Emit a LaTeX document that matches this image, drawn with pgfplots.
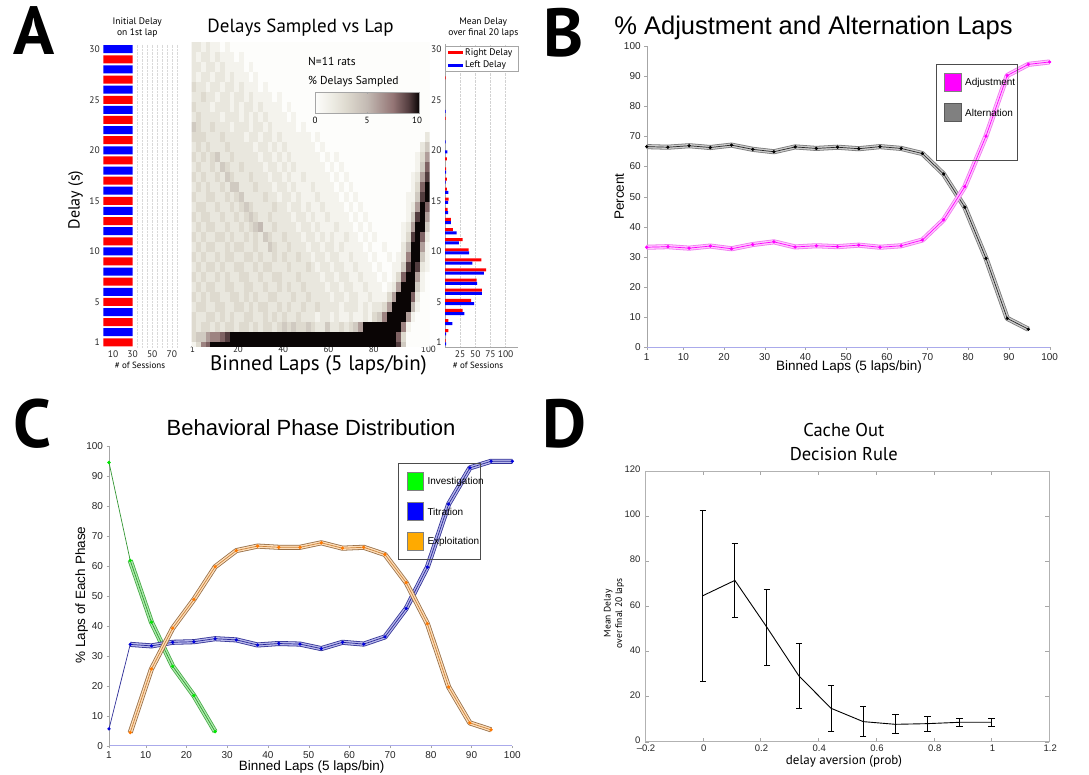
\documentclass[border=0pt]{standalone}
\usepackage{fontspec}
\setmainfont{Liberation Sans}
\newfontfamily\myr{PT Sans}
\usepackage{pgfplots}
\usepackage{pgfplotstable}
\pgfplotsset{compat=1.18}
\newcommand\fs[1]{\fontsize{#1}{#1}\selectfont}
\newcommand\fsb[2]{\fontsize{#1}{#2}\selectfont}
\pgfdeclareplotmark{cell}{\pgfpathrectangle{\pgfpoint{-2.45pt}{-5.1pt}}{\pgfpoint{4.9pt}{10.2pt}}\pgfusepathqfill}
\pgfdeclarehorizontalshading{cbar}{100bp}{rgb(0bp)=(0.992,0.992,0.984); rgb(25bp)=(0.992,0.992,0.984); rgb(32.5bp)=(0.937,0.933,0.902); rgb(40bp)=(0.871,0.855,0.812); rgb(50bp)=(0.765,0.729,0.702); rgb(62.5bp)=(0.58,0.459,0.459); rgb(70bp)=(0.322,0.235,0.243); rgb(75bp)=(0.04,0.02,0.02); rgb(100bp)=(0.04,0.02,0.02)}
\definecolor{xaxisblue}{RGB}{170,170,235}
\definecolor{altedge}{RGB}{120,120,120}
\definecolor{altfill}{RGB}{205,205,205}
\definecolor{adjedge}{RGB}{240,120,240}
\definecolor{adjfill}{RGB}{255,200,255}
\definecolor{mag}{RGB}{255,0,255}
\definecolor{invedge}{RGB}{70,170,70}
\definecolor{invfill}{RGB}{175,235,175}
\definecolor{invline}{RGB}{50,150,50}
\definecolor{invmark}{RGB}{0,230,0}
\definecolor{titedge}{RGB}{50,50,150}
\definecolor{titfill}{RGB}{185,185,235}
\definecolor{titline}{RGB}{40,40,150}
\definecolor{titmark}{RGB}{0,0,220}
\definecolor{expedge}{RGB}{150,110,70}
\definecolor{expfill}{RGB}{255,222,185}
\definecolor{expline}{RGB}{200,130,60}
\definecolor{expmark}{RGB}{255,120,0}
\definecolor{legorange}{RGB}{255,170,0}

\pgfplotstableread[header=false]{
2 2 1 2 1 1 0 1 0 0 0 0 0 0 0 0 0 0 0 0 0 0 0 0 0 0 0 0 0 0 0 0 0 0 0 0 0 0 0 0 0 0 0 0 0 0 0 0 0 0
2 1 2 2 1 2 1 1 1 0 1 0 0 0 0 0 0 0 0 0 0 0 0 0 0 0 0 0 0 0 0 0 0 0 0 0 0 0 0 0 0 0 0 0 0 0 0 0 0 0
2 2 1 2 2 1 2 1 1 1 1 0 1 0 0 0 0 0 0 0 0 0 0 0 0 0 0 0 0 0 0 0 0 0 0 0 0 0 0 0 0 0 0 0 0 0 0 0 0 0
2 1 2 2 1 2 2 1 2 1 1 1 0 1 0 0 0 0 0 0 0 0 0 0 0 0 0 0 0 0 0 0 0 0 0 0 0 0 0 0 0 0 0 0 0 0 0 0 0 0
3 2 2 1 2 2 1 2 2 1 2 1 1 1 0 1 0 0 0 0 0 0 0 0 0 0 0 0 0 0 0 0 0 0 0 0 0 0 0 0 0 0 0 0 0 0 0 0 0 0
2 2 3 2 2 1 2 2 1 2 2 1 2 1 1 1 1 0 1 0 0 0 0 0 0 0 0 0 0 0 0 0 0 0 0 0 0 0 0 0 0 0 0 0 0 0 0 0 0 0
3 2 2 2 1 2 2 2 1 2 1 2 2 1 2 1 1 1 1 0 1 0 0 0 0 0 0 0 0 0 0 0 0 0 0 0 0 0 0 0 0 0 0 0 0 0 0 0 0 0
2 3 2 2 2 2 1 2 2 2 1 2 1 2 1 2 1 1 1 1 0 1 0 0 0 0 0 0 0 0 0 0 0 0 0 0 0 0 0 0 0 0 0 0 0 0 0 0 0 0
4 3 2 2 3 2 2 2 1 2 2 2 1 2 2 1 2 1 1 1 1 1 0 1 0 0 0 0 0 0 0 0 0 0 0 0 0 0 0 0 0 0 0 0 0 0 0 0 0 0
3 3 3 2 2 2 3 2 2 2 2 1 2 2 1 2 2 1 2 1 1 1 1 1 1 0 1 0 0 0 0 0 0 0 0 0 0 0 0 0 0 0 0 0 0 0 0 0 0 2
2 3 2 3 2 2 2 3 2 2 2 2 2 1 2 2 1 2 1 2 1 1 1 1 1 1 0 1 0 0 0 0 0 0 0 0 0 0 0 0 0 0 0 0 0 0 0 0 2 4
3 2 3 2 3 4 2 2 3 2 2 2 2 2 1 2 2 1 2 1 2 1 1 1 1 1 1 0 1 0 1 0 0 0 0 0 0 0 0 0 0 0 0 0 0 0 0 1 3 6
2 3 2 2 3 2 4 3 2 2 3 2 2 2 2 1 2 2 1 2 1 2 1 1 1 1 1 1 0 1 0 1 0 0 0 0 0 0 0 0 0 0 0 0 0 0 0 1 4 8
3 2 3 2 2 3 2 4 3 2 2 2 3 2 2 2 1 2 2 1 2 1 1 2 1 1 1 1 1 0 1 0 1 0 0 0 0 0 0 0 0 0 0 0 0 0 1 2 6 9
2 3 2 3 2 2 3 2 4 4 2 2 2 3 2 2 2 1 2 2 1 2 1 1 1 2 1 1 1 1 0 1 0 1 0 0 0 0 0 0 0 0 0 0 0 0 1 3 8 10
3 2 2 3 3 2 2 3 2 3 4 2 2 2 2 3 2 2 1 2 2 1 2 1 1 1 2 1 1 1 1 0 1 0 1 0 0 0 0 0 0 0 0 0 0 1 1 4 9 10
2 3 3 2 2 3 2 2 3 2 3 4 3 2 2 2 2 3 2 2 1 2 2 1 2 1 1 2 1 1 1 1 0 1 0 1 0 0 0 0 0 0 0 0 0 1 2 6 10 8
3 2 3 3 2 2 3 2 2 3 2 3 4 3 2 2 3 2 2 2 2 1 2 2 1 2 1 1 2 1 1 1 1 0 1 0 1 0 0 0 0 0 0 0 0 1 4 9 10 6
2 3 2 3 3 2 2 3 2 2 3 2 3 4 5 2 2 3 2 2 2 2 1 2 2 1 2 1 1 1 2 1 1 1 0 1 0 1 0 0 0 0 0 0 1 2 6 10 10 4
3 2 3 2 2 3 3 2 3 2 2 3 2 3 2 4 3 2 2 3 2 2 2 1 2 2 1 2 1 2 1 1 2 1 1 0 1 0 1 0 0 0 0 0 1 3 9 10 8 2
2 3 2 3 3 2 2 3 2 3 3 2 2 3 2 2 4 3 2 2 3 2 2 2 1 2 2 1 2 2 1 2 1 1 1 1 0 1 0 0 1 0 0 0 2 5 10 10 6 1
3 2 3 2 2 3 2 3 3 2 2 3 3 2 3 2 2 3 2 3 2 2 3 2 2 1 2 2 1 2 2 1 1 2 1 1 1 0 1 0 0 1 0 1 2 7 10 10 4 1
2 3 2 3 3 2 3 2 2 3 3 2 2 3 2 3 3 2 2 2 3 2 2 2 3 2 1 2 2 1 2 2 1 1 2 1 1 1 0 1 0 0 1 1 4 9 10 9 2 1
3 2 3 2 2 3 2 3 2 2 3 3 2 2 3 2 2 3 3 2 2 2 3 2 2 2 2 1 2 2 1 2 2 1 1 2 1 1 1 0 1 0 1 3 8 10 10 6 1 0
2 3 2 3 3 2 2 3 3 2 2 3 3 2 2 3 2 2 3 2 3 2 2 3 2 2 2 2 1 2 2 1 2 2 1 1 2 1 1 1 0 1 2 6 10 10 10 4 1 0
3 2 3 2 3 3 2 2 3 3 2 3 2 3 2 2 3 3 2 2 2 3 2 2 3 2 2 2 2 1 2 2 1 2 2 1 1 2 1 1 1 3 6 10 10 10 8 2 0 0
2 3 3 2 2 3 3 2 2 3 3 2 3 2 3 3 2 2 3 2 3 2 2 3 2 2 3 2 2 2 2 1 2 2 2 1 2 1 2 2 3 6 10 10 10 10 5 1 0 0
3 2 2 3 3 2 3 2 3 2 2 3 3 2 2 3 2 3 2 3 2 2 3 2 2 2 1 2 2 1 2 1 1 2 1 1 2 1 3 4 7 10 10 10 10 6 1 0 0 0
3 2 3 3 2 3 2 3 3 2 3 3 2 3 2 3 3 2 3 4 3 4 3 3 4 3 2 2 4 2 2 3 2 3 4 6 10 10 10 10 10 10 10 10 7 1 0 0 0 0
3 4 4 6 7 7 8 9 10 10 10 10 10 10 10 10 10 10 10 10 10 10 10 10 10 10 10 10 10 10 10 10 10 10 10 10 10 10 10 10 10 10 10 8 3 0 0 0 0 0
1 3 7 8 10 10 10 10 10 10 10 10 10 10 10 10 10 10 10 10 10 10 10 10 10 10 10 10 10 10 10 10 10 10 10 10 10 10 10 10 10 10 10 9 4 0 0 0 0 0
}\heat

\pgfplotstableread{
x y
1 66.6
6.21 66.4
11.42 66.9
16.63 66.3
21.84 67.1
27.05 65.7
32.26 64.9
37.47 66.5
42.68 66.0
47.89 66.4
53.11 65.9
58.32 66.6
63.53 66.0
68.74 64.3
73.95 57.5
79.16 46.5
84.37 29.5
89.58 9.6
94.79 6.0
}\alt

\pgfplotstableread{
x y
1 33.2
6.21 33.4
11.42 32.9
16.63 33.6
21.84 32.7
27.05 34.1
32.26 35.0
37.47 33.3
42.68 33.7
47.89 33.4
53.11 33.9
58.32 33.2
63.53 33.7
68.74 35.6
73.95 42.3
79.16 53.3
84.37 70.1
89.58 90.2
94.79 93.9
100 94.7
}\adj

\pgfplotstableread{
x y
1 94.5
6.21 61.8
11.42 41.2
16.63 26.5
21.84 16.7
27.05 4.7
}\inv

\pgfplotstableread{
x y
1 5.6
6.21 33.8
11.42 33.3
16.63 34.5
21.84 34.7
27.05 35.7
32.26 35.3
37.47 33.6
42.68 34.1
47.89 33.9
53.11 32.4
58.32 34.5
63.53 33.9
68.74 36.3
73.95 45.8
79.16 59.6
84.37 80.6
89.58 92.7
94.79 94.9
100 94.9
}\tit

\pgfplotstableread{
x y
6.21 4.4
11.42 25.6
16.63 39.2
21.84 48.8
27.05 59.7
32.26 65.1
37.47 66.6
42.68 66.2
47.89 66.2
53.11 67.7
58.32 65.9
63.53 66.2
68.74 63.8
73.95 54.4
79.16 40.7
84.37 19.6
89.58 7.6
94.79 5.3
}\expl

\pgfplotsset{every axis/.append style={scale only axis, anchor=south west, /pgf/number format/assume math mode=true}}

\begin{document}
\begin{tikzpicture}
\path[use as bounding box] (0,0) rectangle (1089pt,775pt);
\fill[white] (0,0) rectangle (1089pt,775pt);

% ---------- A1: initial delay strip ----------
\begin{axis}[at={(103.3pt,427.6pt)}, width=73.4pt, height=303.2pt,
  xmin=0, xmax=75, ymin=0.5, ymax=30.5,
  xbar, bar width=8pt,
  axis line style={draw=none},
  xtick={10,30,50,70}, ytick={1,5,10,15,20,25,30},
  minor xtick={35,40,...,75},
  xminorgrids, minor grid style={densely dotted, gray!30, line width=0.4pt},
  major tick length=0pt, minor tick length=0pt,
  tick label style={font=\myr\fs{9.5}, text=black!85},
]
\addplot[fill=red, draw=none, bar shift=0pt] coordinates {(30,1)(30,3)(30,5)(30,7)(30,9)(30,11)(30,13)(30,15)(30,17)(30,19)(30,21)(30,23)(30,25)(30,27)(30,29)};
\addplot[fill=blue, draw=none, bar shift=0pt] coordinates {(30,2)(30,4)(30,6)(30,8)(30,10)(30,12)(30,14)(30,16)(30,18)(30,20)(30,22)(30,24)(30,26)(30,28)(30,30)};
\end{axis}

% ---------- A2: heatmap ----------
\begin{axis}[at={(191.5pt,428.3pt)}, width=238.2pt, height=305pt,
  xmin=0.5, xmax=100.5, ymin=0, ymax=30.5,
  axis line style={draw=none},
  xtick={1,20,39,58,77,100}, xticklabels={1,20,40,60,80,100},
  ytick=\empty, major tick length=0pt,
  tick label style={font=\myr\fs{9}, text=black!85},
  xticklabel style={yshift=4.5pt},
  colormap={heat}{rgb255(0pt)=(253,253,251) rgb255(15pt)=(239,238,230) rgb255(30pt)=(222,218,207) rgb255(50pt)=(195,186,179) rgb255(75pt)=(148,117,117) rgb255(90pt)=(82,60,62) rgb255(100pt)=(10,5,5)},
  point meta min=0, point meta max=10,
  clip marker paths=true,
]
\pgfplotsinvokeforeach{0,...,49}{
  \addplot[scatter, only marks, mark=cell, scatter/use mapped color={draw=mapped color, fill=mapped color}, point meta=explicit] table[x expr={2*#1+1.5}, y expr={30-\coordindex}, meta index=#1] {\heat};
}
\end{axis}

% ---------- A3: histogram ----------
\begin{axis}[at={(445pt,427.6pt)}, width=72.7pt, height=303.2pt,
  xmin=0, xmax=120, ymin=0.5, ymax=30.5,
  xbar, bar width=3pt,
  axis x line*=bottom, axis y line*=left, axis line style={gray!70, -},
  xtick={25,50,75,100}, ytick={1,5,10,15,20,25,30},
  xmajorgrids, major grid style={densely dotted, gray!35, line width=0.4pt},
  major tick length=0pt,
  tick label style={font=\myr\fs{9.5}, text=black!85},
]
\addplot[fill=red, draw=none, bar shift=1.6pt] coordinates {(1,1)(5.5,2)(5.5,3)(29,4)(43,5)(61,6)(52,7)(68,8)(60,9)(39,10)(29,11)(13,12)(9.5,13)(4.5,14)(6,15)(3,16)(3,17)(2,18)(3,19)(1,23)(1,27)};
\addplot[fill=blue, draw=none, bar shift=-1.6pt] coordinates {(2,1)(2,2)(12,3)(32,4)(48,5)(61,6)(53,7)(64,8)(45,9)(40,10)(23,11)(19,12)(9.5,13)(5,14)(5,15)(5.5,16)(1,17)(2,18)(4,20)(1,21)(1,24)};
\end{axis}

% ---------- B ----------
\begin{axis}[at={(646.7pt,427.7pt)}, width=402.9pt, height=301.3pt,
  xmin=1, xmax=100, ymin=0, ymax=100,
  axis x line*=bottom, axis y line*=left,
  x axis line style={draw=xaxisblue, -},
  y axis line style={draw=gray!70, -},
  xtick={1,10,20,30,40,50,60,70,80,90,100}, ytick={0,10,...,100},
  tick align=outside, major tick length=2.5pt, tick style={gray!70},
  tick label style={font=\fs{10}, text=black!85},
]
\addplot[altedge, line width=5pt, line join=round] table {\alt};
\addplot[altfill, line width=3.4pt, line join=round] table {\alt};
\addplot[black!85, line width=0.7pt, mark=*, mark size=1.3pt, mark options={fill=black, draw=black}] table {\alt};
\addplot[adjedge, line width=5pt, line join=round] table {\adj};
\addplot[adjfill, line width=3.4pt, line join=round] table {\adj};
\addplot[mag, line width=0.7pt, mark=*, mark size=1.3pt, mark options={fill=mag, draw=mag}] table {\adj};
\end{axis}

% ---------- C ----------
\begin{axis}[at={(109pt,29.3pt)}, width=403.3pt, height=299.7pt,
  xmin=1, xmax=100, ymin=0, ymax=100,
  axis x line*=bottom, axis y line*=left,
  x axis line style={draw=xaxisblue, -},
  y axis line style={draw=gray!70, -},
  xtick={1,10,20,30,40,50,60,70,80,90,100}, ytick={0,10,...,100},
  tick align=outside, major tick length=2.5pt, tick style={gray!70},
  tick label style={font=\fs{10}, text=black!85},
]
\addplot[invedge, line width=5pt, line join=round, restrict x to domain=5:101] table {\inv};
\addplot[invfill, line width=3.4pt, line join=round, restrict x to domain=5:101] table {\inv};
\addplot[invline, line width=0.7pt, mark=*, mark size=1.3pt, mark options={fill=invmark, draw=invmark}] table {\inv};
\addplot[titedge, line width=5pt, line join=round, restrict x to domain=5:101] table {\tit};
\addplot[titfill, line width=3.4pt, line join=round, restrict x to domain=5:101] table {\tit};
\addplot[titline, line width=0.7pt, mark=*, mark size=1.3pt, mark options={fill=titmark, draw=titmark}] table {\tit};
\addplot[expedge, line width=5pt, line join=round] table {\expl};
\addplot[expfill, line width=3.4pt, line join=round] table {\expl};
\addplot[expline, line width=0.7pt, mark=*, mark size=1.3pt, mark options={fill=expmark, draw=expmark}] table {\expl};
\end{axis}

% ---------- D ----------
\begin{axis}[at={(645pt,33.3pt)}, width=404.3pt, height=270.7pt,
  xmin=-0.2, xmax=1.2, ymin=0, ymax=120,
  xtick={-0.2,0,0.2,0.4,0.6,0.8,1,1.2}, xticklabels={\textendash0.2,0,0.2,0.4,0.6,0.8,1,1.2},
  ytick={0,20,40,60,80,100,120},
  tick align=inside, major tick length=4pt, tick style={gray!70},
  axis line style={gray!60},
  tick label style={font=\fs{9.5}, text=black!85},
  yticklabel style={xshift=-1pt, yshift=1.5pt},
  xticklabel style={xshift=1pt},
]
\addplot[black, line width=0.9pt,
  error bars/.cd, y dir=both, y explicit,
  error bar style={line width=0.9pt, black},
  error mark options={rotate=90, line width=0.9pt, mark size=3.2pt, black}]
  coordinates {
  (0,64.7) +- (0,38.0)
  (0.1111,71.5) +- (0,16.6)
  (0.2222,50.7) +- (0,17.0)
  (0.3333,29.1) +- (0,14.3)
  (0.4444,14.8) +- (0,10.1)
  (0.5556,8.9) +- (0,6.7)
  (0.6667,7.7) +- (0,4.2)
  (0.7778,8.0) +- (0,3.4)
  (0.8889,8.6) +- (0,1.8)
  (1,8.6) +- (0,1.8)
  };
\end{axis}

% ---------- Panel A texts ----------
\node[align=center, font=\myr\fsb{9.5}{11.6}] at (137.3pt,747.5pt) {Initial Delay\\on 1st lap};
\node[rotate=90, font=\myr\fs{16}] at (75.7pt,575pt) {Delay (s)};
\node[font=\myr\fs{9}] at (140pt,410pt) {\# of Sessions};
\node[font=\myr\fs{19}] at (300.5pt,747pt) {Delays Sampled vs Lap};
\node[inner sep=0pt, font=\myr\fs{21}] at (318.5pt,410pt) {Binned Laps (5 laps/bin)};
\node[anchor=west, inner sep=0pt, font=\myr\fs{11.5}] at (308pt,713.3pt) {N=11 rats};
\node[anchor=west, inner sep=0pt, font=\myr\fs{11.5}] at (308pt,693.3pt) {\% Delays Sampled};
\shade[shading=cbar] (315pt,661.3pt) rectangle (419pt,682.7pt);
\draw[gray!70, line width=0.5pt] (315pt,661.3pt) rectangle (419pt,682.7pt);
\draw[gray!70, line width=0.4pt] (367pt,661.3pt) -- ++(0,2pt) (367pt,682.7pt) -- ++(0,-2pt);
\node[font=\myr\fs{9}] at (315pt,655pt) {0};
\node[font=\myr\fs{9}] at (367pt,655pt) {5};
\node[font=\myr\fs{9}] at (417pt,655pt) {10};
\node[align=center, font=\myr\fsb{9.5}{11}] at (483.3pt,747.5pt) {Mean Delay\\over final 20 laps};
\node[font=\myr\fs{9}] at (478pt,410pt) {\# of Sessions};
\draw[gray!70, line width=0.5pt, fill=white] (445pt,703.3pt) rectangle (518pt,728.3pt);
\draw[red, line width=2.5pt] (448.3pt,722.3pt) -- (463.3pt,722.3pt);
\draw[blue, line width=2.5pt] (448.3pt,709.7pt) -- (463.3pt,709.7pt);
\node[anchor=west, inner sep=0pt, font=\myr\fs{9.5}] at (465pt,722.3pt) {Right Delay};
\node[anchor=west, inner sep=0pt, font=\myr\fs{9.5}] at (465pt,709.7pt) {Left Delay};

% ---------- Panel B texts ----------
\node[font=\fs{25.5}] at (813.5pt,747pt) {\% Adjustment and Alternation Laps};
\node[rotate=90, font=\fs{13.5}] at (619.3pt,578.3pt) {Percent};
\node[font=\fs{13.5}] at (849pt,407.5pt) {Binned Laps (5 laps/bin)};
\draw[gray!60!black, line width=0.6pt] (936pt,614.3pt) rectangle (1017.3pt,710.7pt);
\filldraw[fill=mag, draw=gray] (944pt,683.3pt) rectangle (960.7pt,701.7pt);
\filldraw[fill=gray, draw=gray!70!black] (944pt,653.3pt) rectangle (960.7pt,671.7pt);
\node[anchor=west, inner sep=0pt, font=\fs{10}] at (965pt,692.3pt) {Adjustment};
\node[anchor=west, inner sep=0pt, font=\fs{10}] at (965pt,662.3pt) {Alternation};

% ---------- Panel C texts ----------
\node[font=\fs{22}] at (311pt,347pt) {Behavioral Phase Distribution};
\node[rotate=90, font=\fs{13.5}] at (81.7pt,180pt) {\% Laps of Each Phase};
\node[font=\fs{13.5}] at (311.7pt,8pt) {Binned Laps (5 laps/bin)};
\draw[gray!60!black, line width=0.6pt] (398.3pt,216pt) rectangle (480.7pt,311.7pt);
\filldraw[fill=green, draw=gray] (406.7pt,285pt) rectangle (423.3pt,302.7pt);
\filldraw[fill=blue, draw=gray] (406.7pt,255pt) rectangle (423.3pt,272.7pt);
\filldraw[fill=legorange, draw=gray] (406.7pt,225pt) rectangle (423.3pt,242.7pt);
\node[anchor=west, inner sep=0pt, font=\fs{10}] at (427.3pt,293.3pt) {Investigation};
\node[anchor=west, inner sep=0pt, font=\fs{10}] at (427.3pt,263.3pt) {Titration};
\node[anchor=west, inner sep=0pt, font=\fs{10}] at (427.3pt,233.3pt) {Exploitation};

% ---------- Panel D texts ----------
\node[font=\myr\fs{18.5}] at (843.8pt,345pt) {Cache Out};
\node[font=\myr\fs{18.5}] at (843.8pt,321pt) {Decision Rule};
\node[font=\myr\fs{13}] at (844pt,13.3pt) {delay aversion (prob)};
\node[rotate=90, align=center, font=\myr\fsb{9.5}{11.5}] at (614pt,161.7pt) {Mean Delay\\over final 20 laps};

% ---------- Panel letters ----------
\node[font=\myr\bfseries\fs{68}] at (34pt,744pt) {A};
\node[font=\myr\bfseries\fs{68}] at (564pt,742pt) {B};
\node[font=\myr\bfseries\fs{68}] at (33pt,351pt) {C};
\node[font=\myr\bfseries\fs{68}] at (564pt,351pt) {D};
\end{tikzpicture}
\end{document}
